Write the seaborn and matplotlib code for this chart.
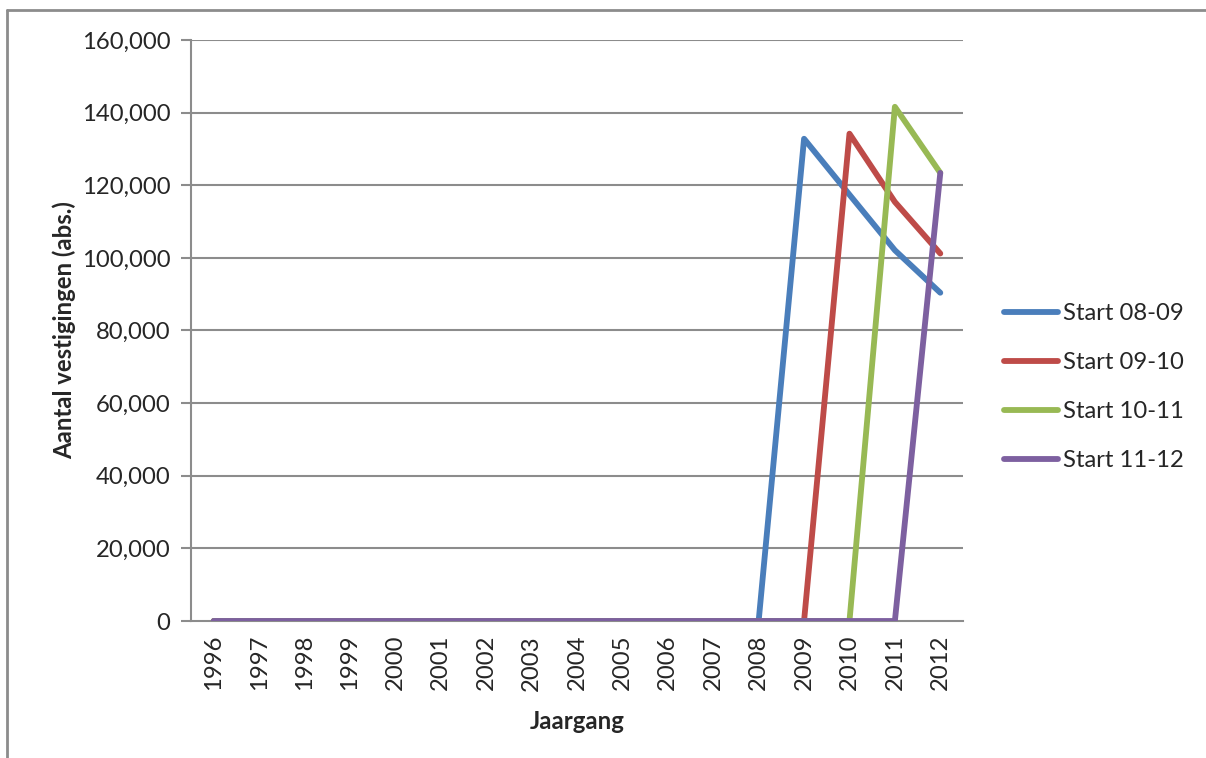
import matplotlib
matplotlib.use("Agg")
import matplotlib.pyplot as plt
from matplotlib.lines import Line2D
import numpy as np
import pandas as pd
import seaborn as sns

years = [str(y) for y in range(1996, 2013)]
series_names = ["Start 08-09", "Start 09-10", "Start 10-11", "Start 11-12"]

start_08_09 = [0] * 12 + [0, 132800, 117400, 102100, 90400]
start_09_10 = [0] * 12 + [0, 0, 134200, 115400, 101200]
start_10_11 = [0] * 12 + [0, 0, 0, 141600, 123400]
start_11_12 = [0] * 12 + [0, 0, 0, 0, 123400]

colors = ["#4A7EBB", "#BE4B48", "#98B954", "#7D60A0"]
y_ticks = [0, 20000, 40000, 60000, 80000, 100000, 120000, 140000, 160000]

rows = []
for name, vals in zip(series_names, [start_08_09, start_09_10, start_10_11, start_11_12]):
    for i, (yr, v) in enumerate(zip(years, vals)):
        rows.append({"pos": i, "Jaargang": yr, "value": v, "series": name})
df = pd.DataFrame(rows)

sns.set_theme(style="white")
plt.rcParams["font.family"] = ["Lato", "DejaVu Sans"]

FS = 17.2
LW = 4.2

fig = plt.figure(figsize=(12.06, 7.58), dpi=100)
ax = fig.add_axes([191 / 1206, 1 - 621 / 758, (963 - 191) / 1206, (621 - 40) / 758])

grid_c = "#8C8C8C"
for t in y_ticks[1:]:
    ax.axhline(t, color=grid_c, lw=1.5, zorder=0)

sns.lineplot(data=df, x="pos", y="value", hue="series", palette=colors,
             hue_order=series_names, linewidth=LW, legend=False, ax=ax,
             solid_capstyle="round", solid_joinstyle="round", zorder=3)

n = len(years)
ax.set_xlim(-0.5, n - 0.5)
ax.set_ylim(0, 160000)
ax.set_xticks(range(n))
ax.set_xticklabels(years, rotation=90, fontsize=FS)
ax.set_xticks(np.arange(-0.5, n, 1.0), minor=True)
ax.tick_params(axis="x", which="major", length=0, pad=10)
ax.tick_params(axis="x", which="minor", length=7, width=1.5, color=grid_c, direction="out")
ax.set_yticks(y_ticks)
ax.set_yticklabels([f"{t:,}" for t in y_ticks], fontsize=FS)
ax.tick_params(axis="y", length=7, width=1.5, color=grid_c, direction="out", pad=8, left=True)

for side in ["top", "right"]:
    ax.spines[side].set_visible(False)
for side in ["left", "bottom"]:
    ax.spines[side].set_color(grid_c)
    ax.spines[side].set_linewidth(1.5)

ax.set_xlabel("Jaargang", fontsize=FS, fontweight="bold", labelpad=14)
ax.set_ylabel("Aantal vestigingen (abs.)", fontsize=FS, fontweight="bold", labelpad=4)

handles = [Line2D([0], [0], color=c, lw=LW, solid_capstyle="round") for c in colors]
fig.legend(handles, series_names, loc="center left",
           bbox_to_anchor=(982 / 1206, 1 - 387 / 758), frameon=False,
           fontsize=FS, handlelength=2.3, handletextpad=0.2, labelspacing=1.17)

# chart frame
fig.add_artist(Line2D([7 / 1206, 1.0], [1 - 10 / 758] * 2, transform=fig.transFigure,
                      color=grid_c, lw=2))
fig.add_artist(Line2D([7 / 1206] * 2, [0.0, 1 - 10 / 758], transform=fig.transFigure,
                      color=grid_c, lw=2))

fig.savefig("out.png", dpi=100)
